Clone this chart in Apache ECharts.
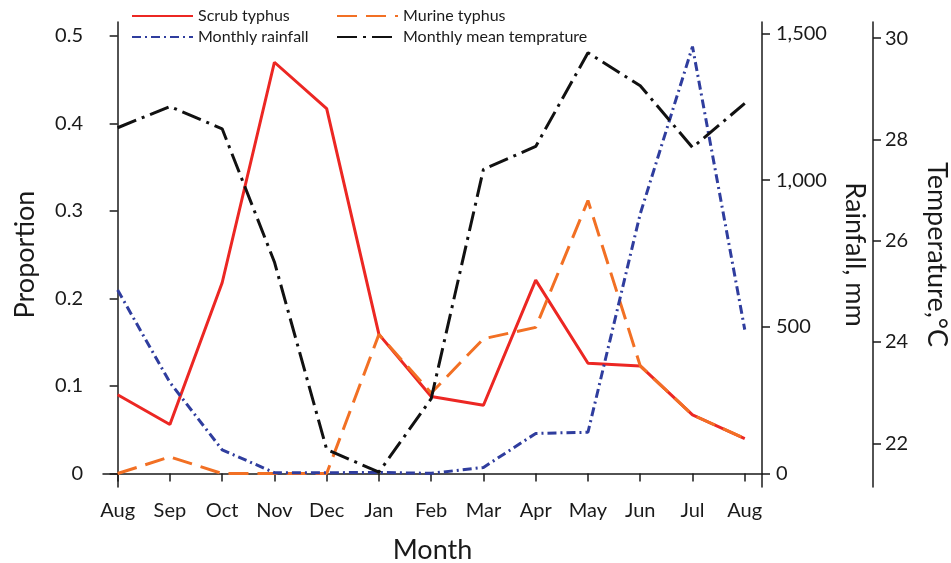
<!DOCTYPE html>
<html>
<head>
<meta charset="utf-8">
<script src="https://cdn.jsdelivr.net/npm/echarts@6/dist/echarts.min.js"></script>
<style>
  html, body { margin: 0; padding: 0; background: #fff; }
  #main { width: 951px; height: 563px; }
</style>
</head>
<body>
<div id="main"></div>
<script>
// month labels along the x axis (Aug to Aug)
var months = ['Aug', 'Sep', 'Oct', 'Nov', 'Dec', 'Jan', 'Feb', 'Mar', 'Apr', 'May', 'Jun', 'Jul', 'Aug'];

// proportions of cases
var scrub = [0.090, 0.056, 0.218, 0.470, 0.417, 0.159, 0.088, 0.078, 0.221, 0.126, 0.123, 0.067, 0.040];
var murine = [0.000, 0.019, 0.000, 0.000, 0.000, 0.159, 0.092, 0.154, 0.167, 0.312, 0.123, 0.067, 0.040];

// rainfall (mm) and mean temperature (°C)
var rainfall = [625, 310, 80, 2, 2, 3, 0, 20, 136, 140, 885, 1455, 490];
var temperature = [28.23, 28.65, 28.21, 25.58, 21.88, 21.43, 22.88, 27.41, 27.86, 29.71, 29.06, 27.84, 28.71];

// tick labels
var propTicks = [0, 0.1, 0.2, 0.3, 0.4, 0.5];
var rainTicks = [0, 500, 1000, 1500];
var tempTicks = [22, 24, 26, 28, 30];

var FONT = 'Lato';
var INK = '#1a1a1a';

function pairs (arr) {
  return arr.map(function (v, i) { return [i, v]; });
}

function axisBase () {
  return {
    axisLine: { show: true, lineStyle: { color: INK, width: 1.5 } },
    axisTick: { show: true, inside: false, length: 8, lineStyle: { color: INK, width: 1.5 } },
    splitLine: { show: false },
    axisLabel: { color: INK, fontFamily: FONT, fontSize: 20, margin: 6 },
    nameTextStyle: { color: INK, fontFamily: FONT, fontSize: 27 }
  };
}

var chart = echarts.init(document.getElementById('main'));

var xAxis = axisBase();
Object.assign(xAxis, {
  type: 'value',
  min: -0.28,
  max: 12.33,
  name: 'Month',
  nameLocation: 'middle',
  nameGap: 50
});
xAxis.axisTick.customValues = months.map(function (m, i) { return i; });
xAxis.axisLabel.customValues = months.map(function (m, i) { return i; });
xAxis.axisLabel.formatter = function (v) { return months[Math.round(v)]; };
xAxis.axisLabel.margin = 14;

var yProp = axisBase();
Object.assign(yProp, {
  type: 'value',
  position: 'left',
  min: -0.0154,
  max: 0.516,
  name: 'Proportion',
  nameLocation: 'middle',
  nameGap: 64,
  nameRotate: 90
});
yProp.axisTick.customValues = propTicks;
yProp.axisLabel.customValues = propTicks;
yProp.axisLabel.formatter = function (v) { return v === 0 ? '0' : v.toFixed(1); };
yProp.axisLabel.margin = 20;

var yRain = axisBase();
Object.assign(yRain, {
  type: 'value',
  position: 'right',
  offset: 0,
  min: -46.7,
  max: 1539,
  name: 'Rainfall, mm',
  nameLocation: 'middle',
  nameGap: 79,
  nameRotate: -90
});
yRain.axisTick.customValues = rainTicks;
yRain.axisLabel.customValues = rainTicks;
yRain.axisLabel.formatter = function (v) { return v.toLocaleString('en-US'); };
yRain.axisLabel.margin = 14;

var yTemp = axisBase();
Object.assign(yTemp, {
  type: 'value',
  position: 'right',
  offset: 111,
  min: 21.137,
  max: 30.318,
  name: 'Temperature,°C',
  nameLocation: 'middle',
  nameGap: 50,
  nameRotate: -90
});
yTemp.axisTick.customValues = tempTicks;
yTemp.axisLabel.customValues = tempTicks;
yTemp.axisLabel.margin = 12;

var legendText = { color: INK, fontFamily: FONT, fontSize: 16 };
var legendCommon = {
  top: 3, orient: 'vertical', itemWidth: 61, itemHeight: 16, itemGap: 5,
  textStyle: legendText,
  itemStyle: { opacity: 0 }
};

chart.setOption({
  animation: false,
  backgroundColor: '#fff',
  grid: { left: 103, right: 189, top: 22, bottom: 76, outerBoundsMode: 'none' },
  legend: [
    Object.assign({ left: 126, data: ['Scrub typhus', 'Monthly rainfall'] }, legendCommon),
    Object.assign({ left: 331, data: ['Murine typhus', 'Monthly mean temprature'] }, legendCommon)
  ],
  xAxis: xAxis,
  yAxis: [yProp, yRain, yTemp],
  series: [
    {
      name: 'Scrub typhus', type: 'line', yAxisIndex: 0, symbol: 'none',
      data: pairs(scrub),
      lineStyle: { color: '#ec2723', width: 3, type: 'solid' },
      itemStyle: { color: '#ec2723' }
    },
    {
      name: 'Murine typhus', type: 'line', yAxisIndex: 0, symbol: 'none',
      data: pairs(murine),
      lineStyle: { color: '#f27024', width: 3, type: [20, 9] },
      itemStyle: { color: '#f27024' }
    },
    {
      name: 'Monthly rainfall', type: 'line', yAxisIndex: 1, symbol: 'none',
      data: pairs(rainfall),
      lineStyle: { color: '#2f3d9e', width: 3, type: [9, 4, 2, 4] },
      itemStyle: { color: '#2f3d9e' }
    },
    {
      name: 'Monthly mean temprature', type: 'line', yAxisIndex: 2, symbol: 'none',
      data: pairs(temperature),
      lineStyle: { color: '#111', width: 3, type: [20, 6, 3, 6] },
      itemStyle: { color: '#111' }
    }
  ]
});

window.addEventListener('resize', function () {
  chart.resize();
});
</script>
</body>
</html>
